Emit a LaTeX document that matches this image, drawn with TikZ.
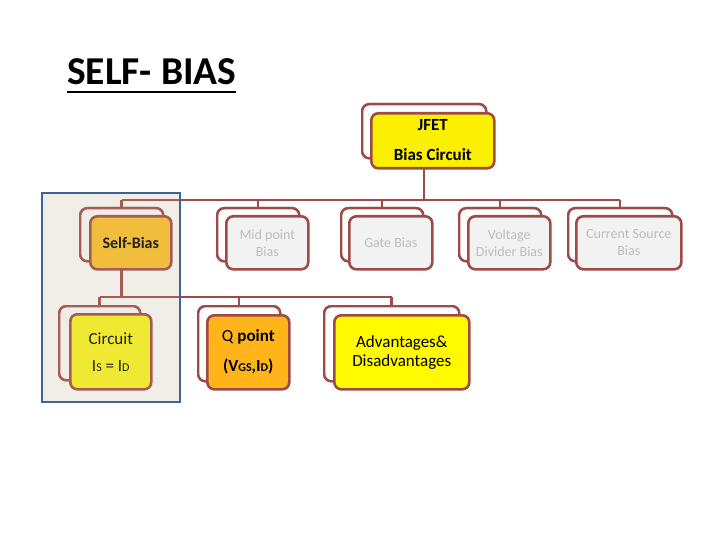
\documentclass[tikz,border=0pt]{standalone}
\usepackage{fontspec}
\setmainfont{Carlito}
\usetikzlibrary{calc}
\definecolor{bord}{HTML}{A04A48}
\definecolor{grayfill}{HTML}{F2F2F2}
\definecolor{graytext}{HTML}{BDBDBD}
\definecolor{jfetyel}{HTML}{FAF000}
\definecolor{gold}{HTML}{FFC42A}
\definecolor{brightyel}{HTML}{FFFA20}
\definecolor{qorange}{HTML}{FFB41A}
\definecolor{advyel}{HTML}{FFFA00}
\definecolor{blueedge}{HTML}{3E6591}
\definecolor{beige}{HTML}{B8A888}
\tikzset{
  backbox/.style={draw=bord, line width=2.4pt, rounded corners=7pt, fill=white, inner sep=0pt, anchor=north west},
  frontbox/.style={draw=bord, line width=2.6pt, rounded corners=7pt, inner sep=0pt, anchor=north west, align=center},
  conn/.style={draw=bord, line width=2.5pt},
  graytxt/.style={text=graytext, font=\fontsize{14}{17}\selectfont},
}
\newcommand\smallsub[1]{{\fontsize{12}{12}\selectfont #1}}
\begin{document}
\begin{tikzpicture}[x=1pt,y=-1pt]
\useasboundingbox (0,0) rectangle (720,540);
% title
\node[anchor=base west, inner sep=0pt, font=\fontsize{39.5}{40}\selectfont\bfseries] (title) at (67,85) {SELF- BIAS};
\draw[line width=2pt] (title.base west |- 0,92) coordinate (ulA) -- (title.base east |- 0,92) coordinate (ulB);
% back boxes geometry
\node[backbox, minimum width=124pt, minimum height=54pt] (jfetB) at (361,103) {};
\node[backbox, minimum width=83pt, minimum height=53pt] (sbB) at (79,207) {};
\node[backbox, minimum width=82pt, minimum height=53pt] (midB) at (216,207) {};
\node[backbox, minimum width=82pt, minimum height=53pt] (gateB) at (340,207) {};
\node[backbox, minimum width=82pt, minimum height=53pt] (voltB) at (458,207) {};
\node[backbox, minimum width=104pt, minimum height=53pt] (curB) at (567,207) {};
\node[backbox, minimum width=81pt, minimum height=74pt] (cirB) at (58,305) {};
\node[backbox, minimum width=82pt, minimum height=75pt] (qB) at (197,305) {};
\node[backbox, minimum width=135pt, minimum height=75pt] (advB) at (323,305) {};
% connectors
\coordinate (bus1) at (0,200);
\coordinate (bus2) at (0,297);
\draw[conn] (jfetB.south) -- (jfetB.south |- bus1);
\draw[conn] (sbB.north |- bus1) -- (curB.north |- bus1);
\foreach \n in {sbB,midB,gateB,voltB,curB} {\draw[conn] (\n.north |- bus1) -- (\n.north);}
\draw[conn] (sbB.south) -- (sbB.south |- bus2);
\draw[conn] (cirB.north |- bus2) -- (advB.north |- bus2);
\foreach \n in {cirB,qB,advB} {\draw[conn] (\n.north |- bus2) -- (\n.north);}
% redraw back boxes over connectors
\foreach \n/\w/\h in {jfetB/124/54,sbB/83/53,midB/82/53,gateB/82/53,voltB/82/53,curB/104/53,cirB/81/74,qB/82/75,advB/135/75} {
  \node[backbox, minimum width=\w pt, minimum height=\h pt] at (\n.north west) {};
}
% front boxes
\node[frontbox, fill=jfetyel, minimum width=123pt, minimum height=55pt, font=\fontsize{17}{29}\selectfont\bfseries] (jfetF) at ($(jfetB.north west)+(9,9)$) {\raisebox{2pt}{JFET}\\\raisebox{1pt}{Bias Circuit}};
\node[frontbox, fill=gold, minimum width=81pt, minimum height=53pt, font=\fontsize{16}{19}\selectfont\bfseries, text=black] (sbF) at ($(sbB.north west)+(10,8)$) {Self-Bias};
\node[frontbox, fill=grayfill, minimum width=82pt, minimum height=53pt, graytxt] (midF) at ($(midB.north west)+(9,8)$) {Mid point\\Bias};
\node[frontbox, fill=grayfill, minimum width=83pt, minimum height=53pt, graytxt] (gateF) at ($(gateB.north west)+(8,8)$) {Gate Bias};
\node[frontbox, fill=grayfill, minimum width=82pt, minimum height=53pt, graytxt] (voltF) at ($(voltB.north west)+(9,8)$) {Voltage\\Divider Bias};
\node[frontbox, fill=grayfill, minimum width=105pt, minimum height=53pt, graytxt] (curF) at ($(curB.north west)+(8,8)$) {Current Source\\Bias};
\node[frontbox, fill=brightyel, minimum width=81pt, minimum height=75pt, font=\fontsize{17}{27}\selectfont] (cirF) at ($(cirB.north west)+(11,8)$) {Circuit\\I\smallsub{S} = I\smallsub{D}};
\node[frontbox, fill=qorange, minimum width=82pt, minimum height=74pt, font=\fontsize{17}{30}\selectfont] (qF) at ($(qB.north west)+(9,9)$) {Q \textbf{point}\\\textbf{(V\smallsub{GS},I\smallsub{D})}};
\node[frontbox, fill=advyel, minimum width=135pt, minimum height=74pt, font=\fontsize{17}{19}\selectfont] (advF) at ($(advB.north west)+(10,9)$) {Advantages\&\\Disadvantages};
% highlight overlay
\fill[beige, opacity=0.2] (42,193) coordinate (hlA) rectangle (180,402) coordinate (hlB);
\draw[blueedge, line width=2.5pt] (hlA) rectangle (hlB);
\end{tikzpicture}
\end{document}
